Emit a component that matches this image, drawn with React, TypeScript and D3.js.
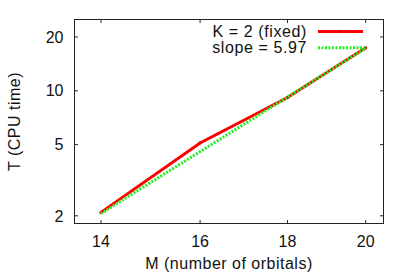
import { scaleLog, line, select } from 'd3';
import { useEffect, useRef } from 'react';

// measured run times (K = 2 fixed)
const orbitals = [14, 16, 18, 20];
const cpuTime = [2.09, 5.11, 9.17, 17.4];

// power-law fit, slope 5.97 on log-log — endpoints
const fitM = [14, 20];
const fitT = [2.06, 17.3];

const xTicks = [14, 16, 18, 20];
const yTicks = [2, 5, 10, 20];

const W = 415, H = 277;
const box = { left: 74, right: 384, top: 19, bottom: 224 };

export default function App() {
  const svgRef = useRef<SVGSVGElement>(null);

  useEffect(() => {
    if (svgRef.current == null) return;
    const svg = select(svgRef.current);
    svg.selectAll('*').remove();

    const x = scaleLog().domain([13.5, 20.5]).range([box.left, box.right]);
    const y = scaleLog().domain([1.8, 25.2]).range([box.bottom, box.top]);
    const font = 'Liberation Sans, Arial, sans-serif';
    const fs = 16;
    const tl = 4;

    const g = svg.append('g');
    const txt = (xx: number, yy: number, s: string, anchor: string, ls = 0.5) =>
      g.append('text').attr('x', xx).attr('y', yy).attr('text-anchor', anchor)
        .attr('font-family', font).attr('font-size', fs).attr('letter-spacing', ls)
        .attr('fill', '#111').text(s);

    // ticks (mirrored, pointing inward)
    xTicks.forEach(t => {
      g.append('line').attr('x1', x(t)).attr('x2', x(t)).attr('y1', box.bottom).attr('y2', box.bottom - tl).attr('stroke', '#222');
      g.append('line').attr('x1', x(t)).attr('x2', x(t)).attr('y1', box.top).attr('y2', box.top + tl).attr('stroke', '#222');
      txt(x(t), 246.7, String(t), 'middle', 0);
    });
    yTicks.forEach(t => {
      g.append('line').attr('x1', box.left).attr('x2', box.left + tl).attr('y1', y(t)).attr('y2', y(t)).attr('stroke', '#222');
      g.append('line').attr('x1', box.right).attr('x2', box.right - tl).attr('y1', y(t)).attr('y2', y(t)).attr('stroke', '#222');
      txt(63.5, y(t) + 5.7, String(t), 'end', 0);
    });

    g.append('rect')
      .attr('x', box.left + 0.5).attr('y', box.top + 0.5)
      .attr('width', box.right - box.left - 1).attr('height', box.bottom - box.top - 1)
      .attr('fill', 'none').attr('stroke', '#222').attr('stroke-width', 1);

    // axis titles
    txt((box.left + box.right) / 2, 269.3, 'M (number of orbitals)', 'middle');
    txt(0, 0, 'T (CPU time)', 'middle')
      .attr('transform', `translate(19.5,${(box.top + box.bottom) / 2}) rotate(-90)`);

    const pts = orbitals.map((m, i) => [x(m), y(cpuTime[i])] as [number, number]);
    const fit = fitM.map((m, i) => [x(m), y(fitT[i])] as [number, number]);

    // measured series
    g.append('path').attr('d', line()(pts)).attr('fill', 'none').attr('stroke', '#ff0000').attr('stroke-width', 3);
    g.selectAll('circle.pt').data(pts).enter().append('circle').attr('class', 'pt')
      .attr('cx', d => d[0]).attr('cy', d => d[1]).attr('r', 1.6).attr('fill', '#dd0000');

    // fit line
    g.append('path').attr('d', line()(fit)).attr('fill', 'none').attr('stroke', '#22ee22')
      .attr('stroke-width', 3).attr('stroke-dasharray', '2,1.5');

    // legend
    txt(307, 36.8, 'K = 2 (fixed)', 'end', 0.6);
    g.append('line').attr('x1', 318).attr('x2', 363).attr('y1', 31.5).attr('y2', 31.5).attr('stroke', '#ff0000').attr('stroke-width', 3);
    g.append('circle').attr('cx', 340.5).attr('cy', 31.5).attr('r', 1.6).attr('fill', '#dd0000');
    txt(307, 52.5, 'slope = 5.97', 'end', 0.6);
    g.append('line').attr('x1', 318).attr('x2', 365).attr('y1', 47.7).attr('y2', 47.7).attr('stroke', '#22ee22')
      .attr('stroke-width', 3).attr('stroke-dasharray', '2,1.5');
  }, []);

  return (
    <div style={{ position: 'absolute', left: 0, top: 0 }}>
      <svg ref={svgRef} width={W} height={H} style={{ display: 'block', background: '#fff' }}></svg>
    </div>
  );
}
